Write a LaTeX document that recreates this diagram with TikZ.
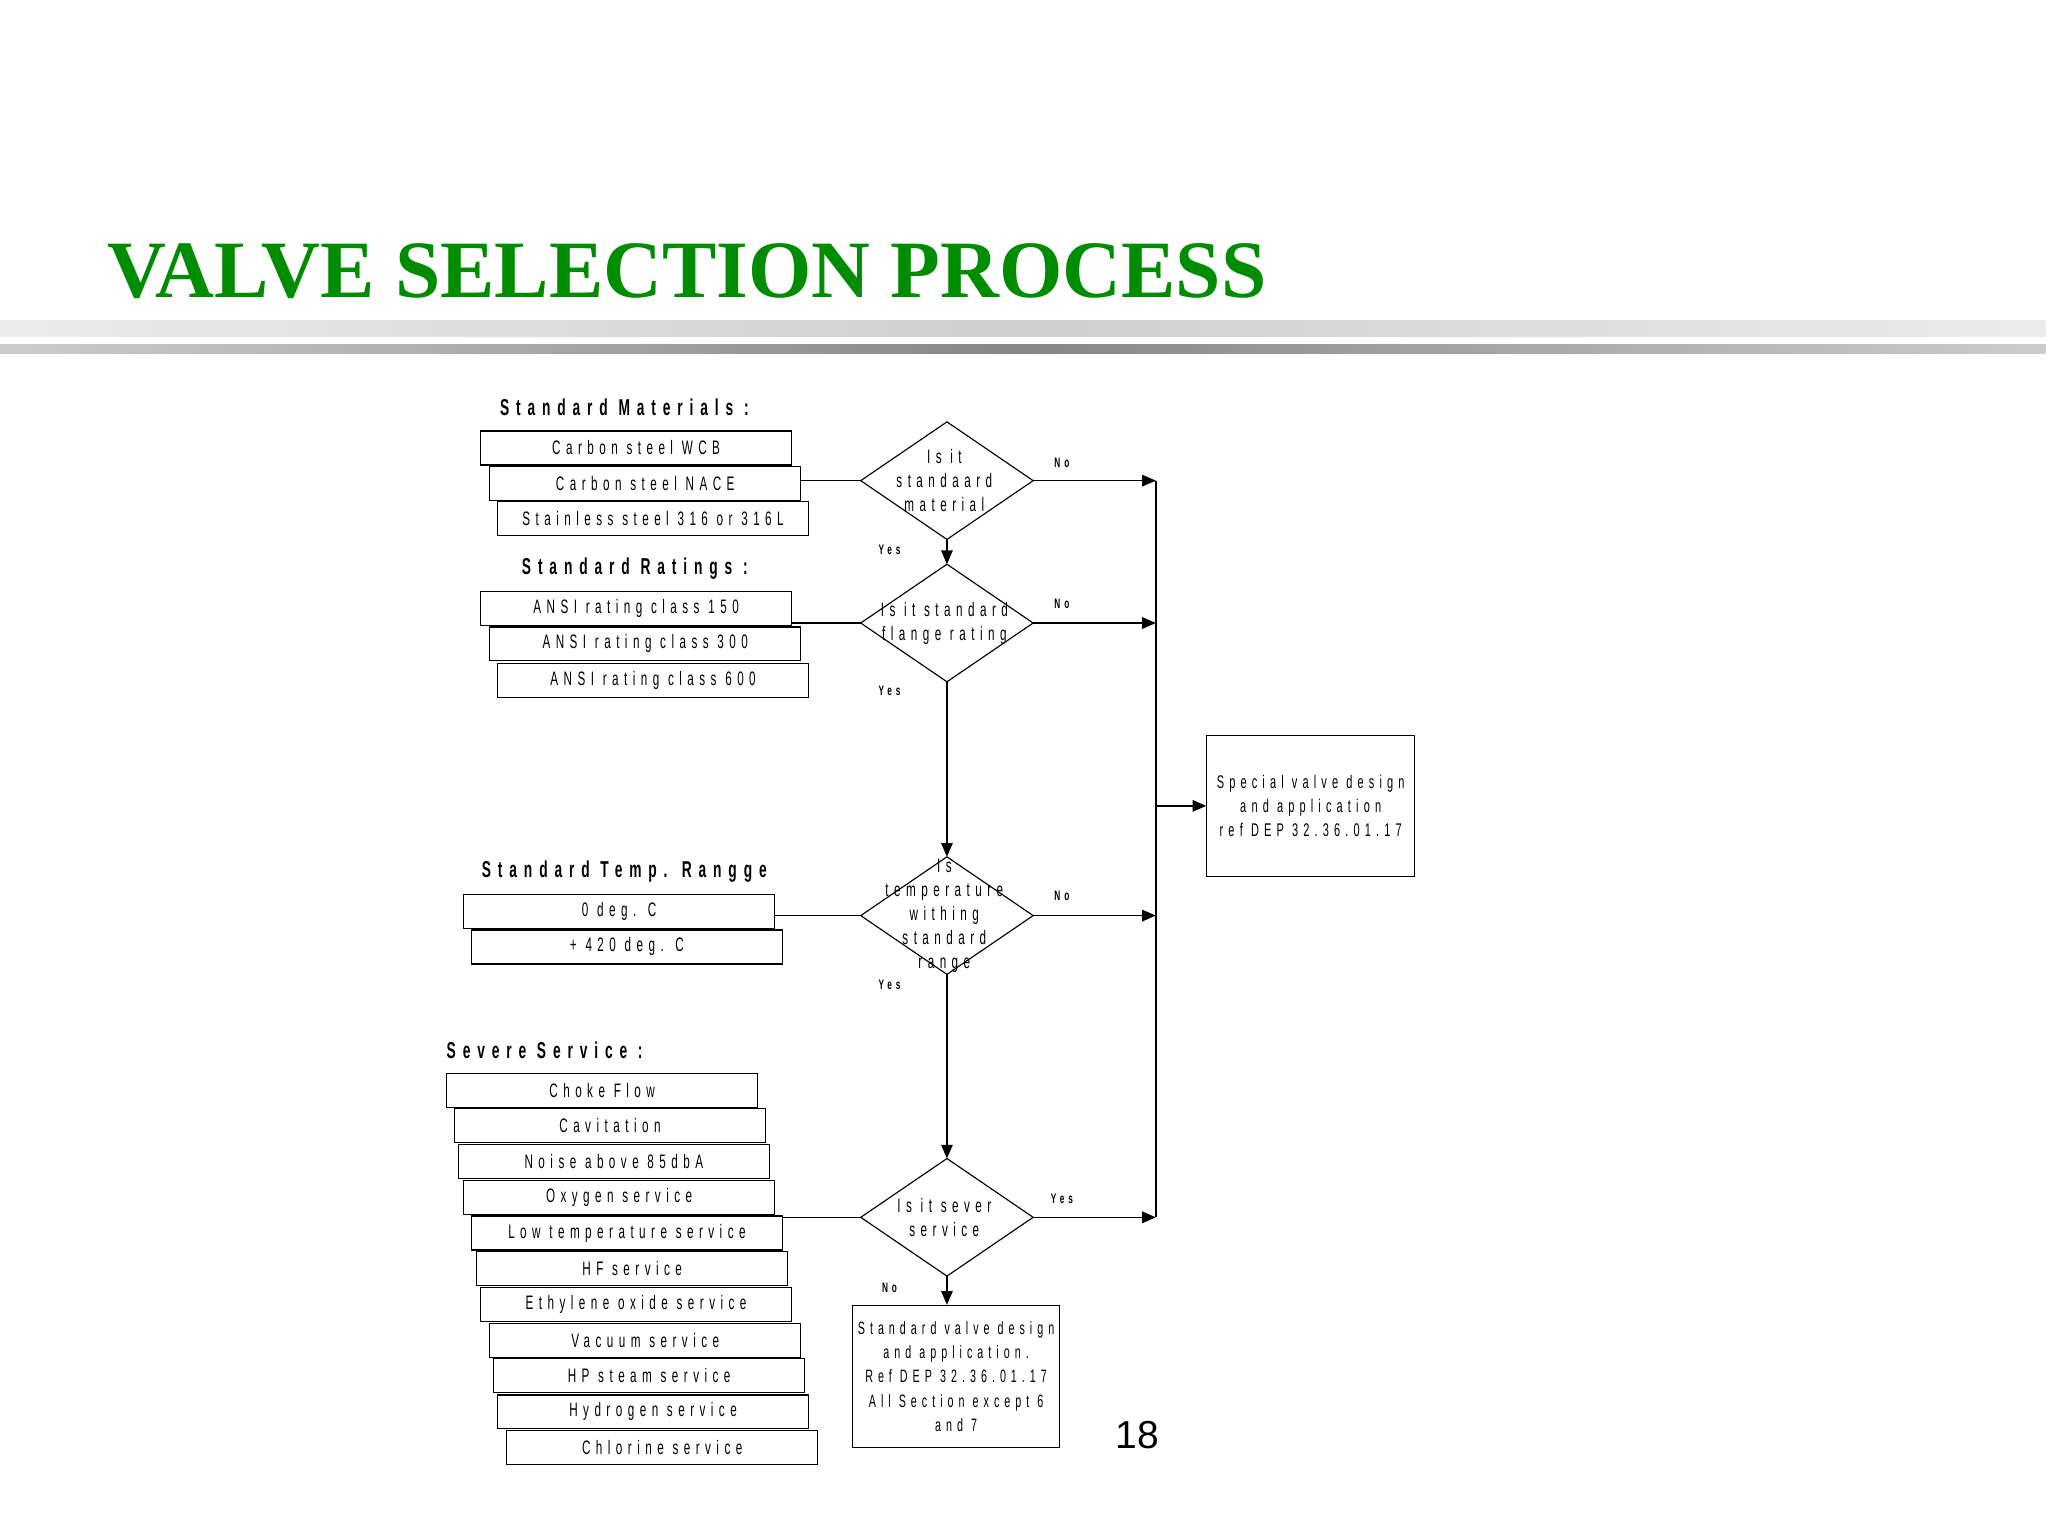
\documentclass[tikz,border=0pt]{standalone}
\usepackage{fontspec}
\setmainfont{Liberation Sans}
\newfontfamily\ttlfont{Liberation Serif}
\newfontfamily\lbl[LetterSpace=28,FakeStretch=0.6]{Liberation Sans}
\newfontfamily\hdf[LetterSpace=30,FakeStretch=0.6]{Liberation Sans}
\usetikzlibrary{arrows.meta}
\begin{document}
\begin{tikzpicture}[x=0.02cm,y=-0.02cm,
  lab/.style={font=\lbl\fontsize{8.5}{10.5}\selectfont,align=center},
  hd/.style={font=\hdf\bfseries\fontsize{10}{12}\selectfont},
  yn/.style={font=\lbl\bfseries\fontsize{6}{7}\selectfont},
  ln/.style={line width=0.6pt},
  arr/.style={line width=0.6pt,-{Triangle[length=6pt,width=5pt]}}]
\useasboundingbox (0,0) rectangle (1568,1176);
\node[font=\ttlfont\bfseries\fontsize{35.5}{40}\selectfont,text=green!55!black,anchor=base west,inner sep=0] (title) at (82,228) {VALVE SELECTION PROCESS};
\shade[left color=gray!15,right color=gray!15,middle color=gray!38] (0,245) rectangle (1566,258);
\shade[left color=gray!40,right color=gray!40,middle color=gray!95] (0,264) rectangle (1566,271);
% diamonds
\newcommand{\dia}[3]{\draw[line width=0.5pt] (#2-66,#3) coordinate (#1l) -- (#2,#3-45) coordinate (#1t) -- (#2+66,#3) coordinate (#1r) -- (#2,#3+45) coordinate (#1b) -- cycle; \coordinate (#1) at (#2,#3);}
\dia{d1}{725}{368}
\dia{d2}{725}{477}
\dia{d3}{725}{701}
\dia{d4}{725}{932}
\node[lab] at (723,368) {Is it\\standaard\\material};
\node[lab] at (723,477) {Is it standard\\flange rating};
\node[lab,text width=120] at (723,701) {Is\\temperature\\withing\\standard\\range};
\node[lab] at (723,932) {Is it sever\\service};
% boxes
\newcommand{\bxx}[4]{\draw[line width=0.5pt] (#2,#3) rectangle (#2+238,#3+26); \node[lab] (#1) at (#2+119,#3+13) {#4}; \coordinate (#1r) at (#2+238,#3+13);}
\node[hd] at (478,312) {Standard Materials :};
\bxx{m1}{368}{330}{Carbon steel WCB}
\bxx{m2}{375}{357}{Carbon steel NACE}
\bxx{m3}{381}{384}{Stainless steel 316 or 316L}
\node[hd] at (486,435) {Standard Ratings :};
\bxx{r1}{368}{453}{ANSI rating class 150}
\bxx{r2}{375}{480}{ANSI rating class 300}
\bxx{r3}{381}{508}{ANSI rating class 600}
\node[hd] at (478,667) {Standard Temp. Rangge};
\bxx{t1}{355}{685}{0 deg. C}
\bxx{t2}{361}{712}{+ 420 deg. C}
\node[hd] at (417,804) {Severe Service :};
\bxx{s1}{342}{822}{Choke Flow}
\bxx{s2}{348}{849}{Cavitation}
\bxx{s3}{351}{876}{Noise above 85dbA}
\bxx{s4}{355}{904}{Oxygen service}
\bxx{s5}{361}{931}{Low temperature service}
\bxx{s6}{365}{958}{HF service}
\bxx{s7}{368}{986}{Ethylene oxide service}
\bxx{s8}{375}{1013}{Vacuum service}
\bxx{s9}{378}{1040}{HP steam service}
\bxx{s10}{381}{1068}{Hydrogen service}
\bxx{s11}{388}{1095}{Chlorine service}
% result boxes
\node[draw,line width=0.5pt,inner sep=0pt,minimum width=159*0.02cm,minimum height=108*0.02cm,lab,font=\lbl\fontsize{8}{10.5}\selectfont] (sp) at (1003.5,617) {Special valve design\\and application\\ref DEP 32.36.01.17};
\node[draw,line width=0.5pt,inner sep=0pt,minimum width=158*0.02cm,minimum height=109*0.02cm,lab,font=\lbl\fontsize{7.8}{10.5}\selectfont,anchor=north] (st) at (732,999) {Standard valve design\\and application.\\Ref DEP 32.36.01.17\\All Section except 6\\and 7};
% connectors
\draw[ln] (m2r |- d1l) -- (d1l);
\draw[ln] (r1r |- d2l) -- (d2l);
\draw[ln] (t1r |- d3l) -- (d3l);
\draw[ln] (s5r |- d4l) -- (d4l);
\coordinate (c1) at (885,368); \coordinate (c2) at (885,477);
\coordinate (c3) at (885,701); \coordinate (c4) at (885,932);
\coordinate (cm) at (885,617);
\draw[arr] (d1r) -- (c1); \draw[arr] (d2r) -- (c2);
\draw[arr] (d3r) -- (c3); \draw[arr] (d4r) -- (c4);
\draw[ln] (c1) -- (c4);
\draw[arr] (cm) -- (sp.west);
\draw[arr] (d1b) -- (d2t);
\draw[arr] (d2b) -- (d3t);
\draw[arr] (d3b) -- (d4t);
\draw[arr] (d4b) -- (st.north-|d4b);
\node[yn] at (813,354) {No};
\node[yn] at (813,462) {No};
\node[yn] at (813,686) {No};
\node[yn] at (813,918) {Yes};
\node[yn] at (681,421) {Yes};
\node[yn] at (681,529) {Yes};
\node[yn] at (681,754) {Yes};
\node[yn] at (681,986) {No};
\node[font=\fontsize{17}{20}\selectfont] (pg) at (871,1099) {18};
\end{tikzpicture}
\end{document}
